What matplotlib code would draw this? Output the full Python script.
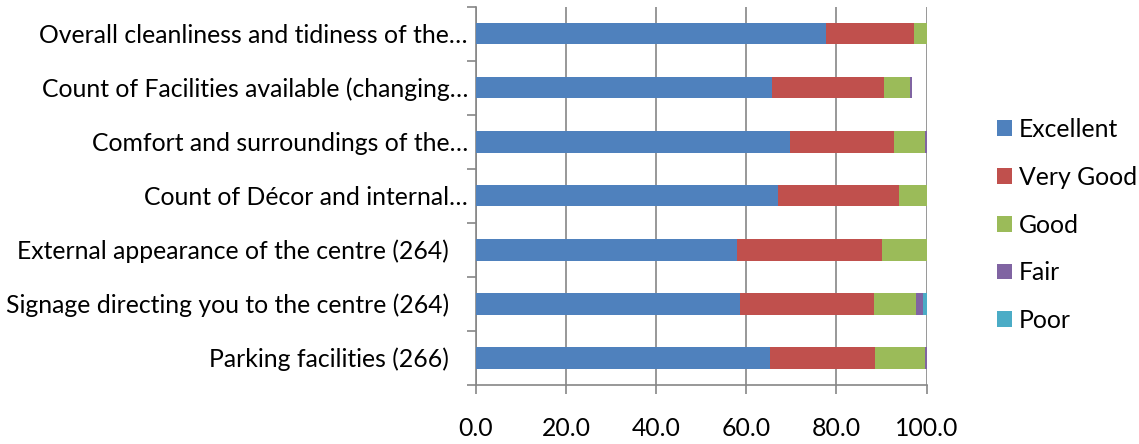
import numpy as np
import matplotlib
matplotlib.use("Agg")
import matplotlib.pyplot as plt
from matplotlib.ticker import FixedLocator

plt.rcParams["font.family"] = ["Lato", "DejaVu Sans"]

# Data (top to bottom as in the chart)
categories = [
    "Overall cleanliness and tidiness of the\u2026",
    "Count of Facilities available (changing\u2026",
    "Comfort and surroundings of the\u2026",
    "Count of D\u00e9cor and internal\u2026",
    "External appearance of the centre (264)   ",
    "Signage directing you to the centre (264)   ",
    "Parking facilities (266)   ",
]
series_names = ["Excellent", "Very Good", "Good", "Fair", "Poor"]
excellent = [77.7, 65.8, 69.6, 67.0, 58.0, 58.6, 65.3]
very_good = [19.6, 24.8, 23.2, 26.9, 32.1, 29.7, 23.3]
good = [2.7, 5.7, 6.9, 6.1, 9.9, 9.4, 11.1]
fair = [0.0, 0.4, 0.3, 0.0, 0.0, 1.5, 0.3]
poor = [0.0, 0.0, 0.0, 0.0, 0.0, 0.8, 0.0]
x_ticks = [0, 20, 40, 60, 80, 100]

colors = ["#4F81BD", "#C0504D", "#9BBB59", "#8064A2", "#4BACC6"]
axis_color = "#868686"
fs = 17.8

fig = plt.figure(figsize=(11.39, 4.44), dpi=100)
ax = fig.add_axes([476 / 1139, 1 - 384.7 / 444, 450.5 / 1139, 378 / 444])

y = np.arange(len(categories))
left = np.zeros(len(categories))
for name, vals, c in zip(series_names, [excellent, very_good, good, fair, poor], colors):
    vals = np.array(vals)
    ax.barh(y, vals, left=left, height=0.4, color=c, label=name, zorder=3)
    left += vals

ax.set_xlim(0, 100)
ax.set_ylim(len(categories) - 0.5, -0.5)

ax.set_xticks(x_ticks)
ax.set_xticklabels([f"{v:.1f}" for v in x_ticks], fontsize=fs)
ax.set_yticks(y)
ax.set_yticklabels(categories, fontsize=fs)
ax.yaxis.set_minor_locator(FixedLocator(np.arange(-0.5, len(categories), 1.0)))

ax.tick_params(axis="y", which="major", length=0, pad=5.8)
ax.tick_params(axis="y", which="minor", length=6.3, width=1.2, color=axis_color)
ax.tick_params(axis="x", which="major", length=6.3, width=1.2, color=axis_color, pad=17)

for side in ["top", "right"]:
    ax.spines[side].set_visible(False)
for side in ["left", "bottom"]:
    ax.spines[side].set_color(axis_color)
    ax.spines[side].set_linewidth(1.2)

ax.grid(axis="x", color=axis_color, linewidth=1.2, zorder=0)
ax.set_axisbelow(True)

ax.legend(loc="center left", bbox_to_anchor=(997 / 1139, 1 - 225 / 444),
          bbox_transform=fig.transFigure, frameon=False, fontsize=fs,
          handlelength=0.61, handleheight=0.61, handletextpad=0.28,
          labelspacing=1.0, borderpad=0, borderaxespad=0)

fig.savefig("out.png", dpi=100)
